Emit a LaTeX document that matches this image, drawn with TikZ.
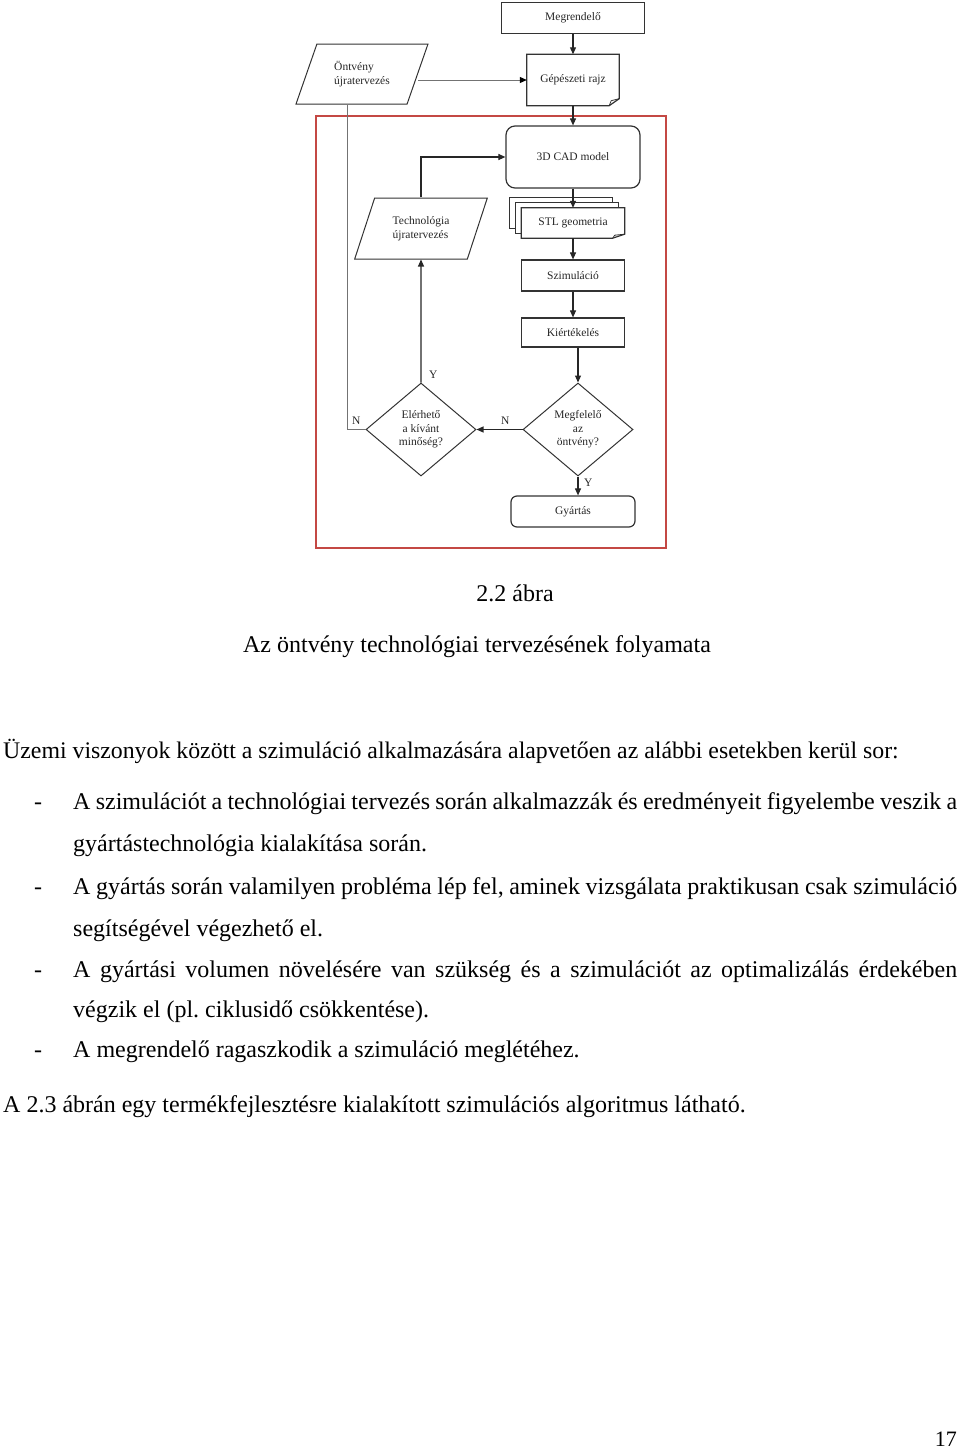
\documentclass[tikz,border=0pt]{standalone}
\usepackage{fontspec}
\setmainfont{Liberation Serif}
\usetikzlibrary{arrows.meta,positioning,calc,shapes.geometric,backgrounds}
\definecolor{framered}{RGB}{196,72,68}
\frenchspacing

\begin{document}
\begin{tikzpicture}[x=1pt,y=-1pt,>={Triangle[length=7pt,width=6pt]},
  every node/.style={inner sep=0pt},
  flow/.style={font=\fontsize{11.5}{13.5}\selectfont,text=black!85,align=center},
  box/.style={flow,draw=black!80,line width=1.2pt},
  rbox/.style={box,rounded corners=9pt},
  slant/.style={trapezium,trapezium left angle=63,trapezium right angle=117,
    trapezium stretches=true,flow,align=left,draw=black!80,line width=1pt},
  decision/.style={diamond,flow,draw=black!80,line width=1pt,
    minimum width=110pt,minimum height=93pt},
  yn/.style={font=\fontsize{11.5}{13.5}\selectfont,text=black!85},
  link/.style={->,line width=1.1pt,black!85},
  glink/.style={line width=1pt,black!55},
  body/.style={font=\fontsize{24}{28}\selectfont,anchor=base west}]
\useasboundingbox (0,0) rectangle (960,1448);

% flowchart
\node[box,minimum width=143pt,minimum height=31pt] (megrendelo) at (573,18) {Megrendelő};
\node[flow,minimum width=92pt,minimum height=51pt] (rajz) at (573,80) {Gépészeti rajz};
\node[slant,minimum width=132pt,minimum height=60pt] (ontveny) at (362,74) {Öntvény\\újratervezés};
\node[rbox,minimum width=134pt,minimum height=62pt] (cad) at (573,157) {3D CAD model};
\node[slant,minimum width=133pt,minimum height=61pt] (techn) at (421,228.5) {Technológia\\újratervezés};
\node[flow,minimum width=103pt,minimum height=30pt] (stl) at (573,223) {STL geometria};
\node[box,minimum width=103pt,minimum height=31pt] (szim) at (573,275.5) {Szimuláció};
\node[box,minimum width=103pt,minimum height=29pt] (kiert) at (573,332.5) {Kiértékelés};
\node[decision] (megfelelo) at (578,429.5) {Megfelelő\\az\\öntvény?};
\node[decision] (elerheto) at (421,429.5) {Elérhető\\a kívánt\\minőség?};
\node[rbox,rounded corners=6pt,minimum width=124pt,minimum height=31pt] (gyartas) at (573,511.5) {Gyártás};
\coordinate (visszatol) at ([xshift=-4pt]ontveny.bottom side);

% document outlines
\draw[draw=black!80,line width=1.2pt] (rajz.north west) -- (rajz.north east)
  -- ([yshift=7pt]rajz.south east) -- ([xshift=-10pt]rajz.south east) -- (rajz.south west) -- cycle;
\draw[draw=black!80,line width=0.8pt] ([yshift=7pt]rajz.south east) -- ([xshift=-8pt,yshift=5pt]rajz.south east)
  -- ([xshift=-10pt]rajz.south east);
\begin{scope}[on background layer]
\draw[fill=white,draw=black!80,line width=1pt] ([xshift=-12pt,yshift=10pt]stl.north west) rectangle ([xshift=-12pt,yshift=10pt]stl.south east);
\draw[fill=white,draw=black!80,line width=1pt] ([xshift=-6pt,yshift=5pt]stl.north west) rectangle ([xshift=-6pt,yshift=5pt]stl.south east);
\draw[fill=white,draw=black!80,line width=1.2pt] (stl.north west) -- (stl.north east)
  -- ([yshift=4pt]stl.south east) -- ([xshift=-12pt]stl.south east) -- (stl.south west) -- cycle;
\end{scope}
\draw[draw=black!80,line width=0.8pt] ([yshift=4pt]stl.south east) -- ([xshift=-10pt,yshift=3pt]stl.south east)
  -- ([xshift=-12pt]stl.south east);

\draw[framered,line width=1.4pt] (316,116) rectangle (666,548);

% connectors
\draw[link] (megrendelo) -- (rajz);
\draw[link] (rajz) -- (cad);
\draw[link] (cad) -- (stl);
\draw[link] (stl) -- (szim);
\draw[link] (szim) -- (kiert);
\draw[link] (megfelelo.north |- kiert.south) -- (megfelelo.north);
\draw[link] (megfelelo.south) -- (megfelelo.south |- gyartas.north);
\draw[link] (megfelelo.west) -- (elerheto.east);
\draw[link] (elerheto.north) -- (techn.south);
\draw[link] (techn.north) |- (cad.west);
\draw[glink,-{Triangle[length=7pt,width=6pt,color=black]}] (ontveny.east |- rajz.west) -- (rajz.west);
\draw[glink] (elerheto.west) -| (visszatol);

\node[yn,above right=4pt and 8pt of elerheto.north] (yes1) {Y};
\node[yn,above left=5pt and 5pt of elerheto.west] (no1) {N};
\node[yn,above left=5pt and 13pt of megfelelo.west] (no2) {N};
\node[yn,below right=2pt and 6pt of megfelelo.south] (yes2) {Y};

% caption and text
\node[body,anchor=base] (cap1) at (515,601) {2.2 ábra};
\node[body,anchor=base] (cap2) at (477,652) {Az öntvény technológiai tervezésének folyamata};
\node[body,font=\fontsize{23.8}{28}\selectfont] (p0) at (3,758) {Üzemi viszonyok között a szimuláció alkalmazására alapvetően az alábbi esetekben kerül sor:};
\node[body] (d1) at (34,809) {-};
\node[body] (l1) at (73,809) {\makebox[884pt][s]{A szimulációt a technológiai tervezés során alkalmazzák és eredményeit figyelembe veszik a}};
\node[body] (l2) at (73,851) {gyártástechnológia kialakítása során.};
\node[body] (d2) at (34,894) {-};
\node[body] (l3) at (73,894) {\makebox[884pt][s]{A gyártás során valamilyen probléma lép fel, aminek vizsgálata praktikusan csak szimuláció}};
\node[body] (l4) at (73,936) {segítségével végezhető el.};
\node[body] (d3) at (34,977) {-};
\node[body] (l5) at (73,977) {\makebox[884pt][s]{A gyártási volumen növelésére van szükség és a szimulációt az optimalizálás érdekében}};
\node[body] (l6) at (73,1017) {végzik el (pl. ciklusidő csökkentése).};
\node[body] (d4) at (34,1057) {-};
\node[body] (l7) at (73,1057) {A megrendelő ragaszkodik a szimuláció meglétéhez.};
\node[body] (p1) at (3,1112) {A 2.3 ábrán egy termékfejlesztésre kialakított szimulációs algoritmus látható.};
\node[body,font=\fontsize{22}{26}\selectfont,anchor=base east] (oldal) at (957,1446) {17};
\end{tikzpicture}
\end{document}
